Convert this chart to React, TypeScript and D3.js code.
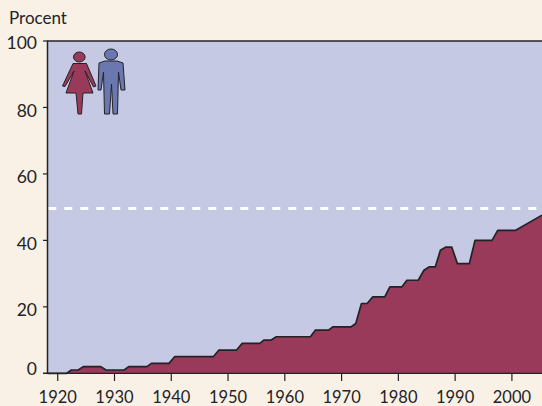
import React from "react";
import * as d3 from "d3";

const years = [1918.2,1921.6,1922.4,1923.6,1924.5,1927.6,1928.5,1931.7,1932.5,1935.7,1936.5,1939.6,1940.6,1947.4,1948.4,1951.5,1952.5,1955.6,1956.3,1957.6,1958.5,1964.5,1965.4,1967.7,1968.5,1971.7,1972.5,1973.5,1974.5,1975.5,1977.6,1978.5,1980.6,1981.5,1983.5,1984.5,1985.4,1986.5,1987.4,1988.4,1989.4,1990.4,1992.5,1993.5,1996.5,1997.5,2000.6,2005.3];
const shares = [0,0,1,1,2,2,1,1,2,2,3,3,5,5,7,7,9,9,10,10,11,11,13,13,14,14,15,21,21,23,23,26,26,28,28,31,32,32,37,38,38,33,33,40,40,43,43,47.6];
const xTicks = [1920,1930,1940,1950,1960,1970,1980,1990,2000];
const yTicks = [0,20,40,60,80,100];
const yLabel = "Procent";
const parity = 49.6;

const font = "Lato, 'Open Sans', sans-serif";
const ink = "#232327";

const x = d3.scaleLinear().domain([1918.2, 2005.3]).range([47.5, 542]);
const y = d3.scaleLinear().domain([0, 100]).range([373.3, 41]);

export default function App() {
  const pts = years.map((yr, i) => [yr, shares[i]] as [number, number]);
  const area = d3.area<[number, number]>().x(d => x(d[0])).y0(y(0)).y1(d => y(d[1]))(pts)!;
  const line = d3.line<[number, number]>().x(d => x(d[0])).y(d => y(d[1]))(pts)!;
  return (
    <svg width={542} height={406} style={{ position: "absolute", left: 0, top: 0, display: "block" }} fontFamily={font}>
      <rect width={542} height={406} fill="#f9f1e5" />
      <rect x={47.5} y={41} width={494.5} height={332} fill="#c5c9e3" />
      <path d={area} fill="#993a5a" />
      <path d={line} fill="none" stroke={ink} strokeWidth={1.7} strokeLinejoin="round" />
      <line x1={x(1918.2)} x2={542} y1={y(parity)} y2={y(parity)} stroke="#fff" strokeWidth={3} strokeDasharray="8 8" strokeDashoffset={15.2} />
      <path d={`M47.5,${y(0)}V41H542`} fill="none" stroke={ink} strokeWidth={1.5} />
      <line x1={43} x2={542} y1={y(0)} y2={y(0)} stroke={ink} strokeWidth={1.3} />
      {yTicks.map(t => (
        <g key={t}>
          <line x1={43} x2={47.5} y1={y(t)} y2={y(t)} stroke={ink} strokeWidth={1.2} />
          <text x={37} y={y(t) + (t === 0 ? -4 : t === 100 ? 2 : 3)} dy="0.35em" textAnchor="end" fontSize={17.5} fill={ink}>{t}</text>
        </g>
      ))}
      {xTicks.map(t => (
        <g key={t}>
          <line x1={x(t)} x2={x(t)} y1={y(0)} y2={381} stroke={ink} strokeWidth={1.2} />
          <text x={x(t)} y={403} textAnchor="middle" fontSize={16.5} fill={ink}>{t}</text>
        </g>
      ))}
      <text x={9} y={24} fontSize={17} fill={ink}>{yLabel}</text>
      {/* woman */}
      <g fill="#993a5a" stroke={ink} strokeWidth={1}>
        <ellipse cx={79.3} cy={57} rx={5.8} ry={5} />
        <path d="M73,63.5 L86.5,63.5 L96,86 L93.5,87 L85,71 L93,93 L83,93 L81.5,114 L78,114 L76,93 L66,93 L74,71 L65,86.5 L62.5,86 Z" />
      </g>
      {/* man */}
      <g fill="#6b78b0" stroke={ink} strokeWidth={1}>
        <ellipse cx={111} cy={54.5} rx={6.5} ry={5.5} />
        <path d="M105,61 L117,61 L123,63 L125,90 L121,90 L118.5,72 L117.5,114 L113,114 L111.5,84 L109.5,114 L104.5,114 L103.5,72 L101,90 L98,90 L99,63 Z" />
      </g>
    </svg>
  );
}
